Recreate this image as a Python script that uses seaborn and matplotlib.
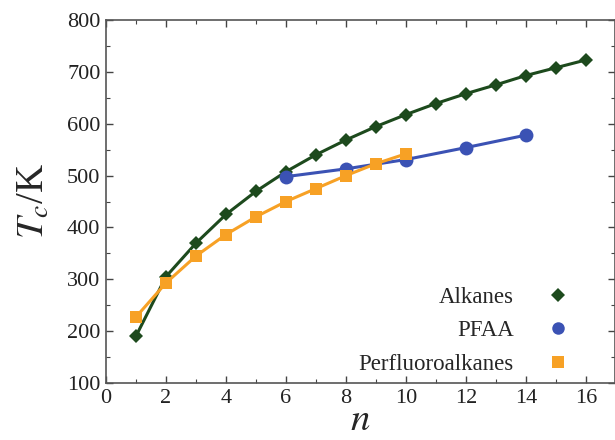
import matplotlib
matplotlib.use("Agg")
import matplotlib.pyplot as plt
from matplotlib.ticker import MultipleLocator
from matplotlib.lines import Line2D
import pandas as pd
import seaborn as sns

# Critical temperatures (K) against chain length n
alkane_n = [1, 2, 3, 4, 5, 6, 7, 8, 9, 10, 11, 12, 13, 14, 15, 16]
alkane_tc = [190.6, 305.3, 369.8, 425.1, 469.7, 507.6, 540.2, 568.7,
             594.6, 617.7, 639.0, 658.0, 675.0, 693.0, 708.0, 723.0]

pfaa_n = [6, 8, 10, 12, 14]
pfaa_tc = [498.0, 513.0, 531.0, 554.0, 578.0]

pfalk_n = [1, 2, 3, 4, 5, 6, 7, 8, 9, 10]
pfalk_tc = [227.5, 293.0, 345.0, 386.4, 420.6, 450.0, 475.0, 500.0, 523.0, 542.0]

series_names = ["Alkanes", "PFAA", "Perfluoroalkanes"]
series_colors = ["#1d4a1d", "#3b52b4", "#f7a125"]
series_markers = ["D", "o", "s"]
series_msize = [7, 10, 9]
legend_msize = [7, 9, 8]

frames = []
for name, xs, ys in zip(series_names, [alkane_n, pfaa_n, pfalk_n],
                        [alkane_tc, pfaa_tc, pfalk_tc]):
    frames.append(pd.DataFrame({"n": xs, "Tc": ys, "series": name}))
df = pd.concat(frames, ignore_index=True)

sns.set_theme(style="ticks")
plt.rcParams["font.family"] = ["Liberation Serif", "DejaVu Serif"]
plt.rcParams["mathtext.fontset"] = "stix"

fig = plt.figure(figsize=(6.15, 4.4), dpi=100)
ax = fig.add_axes([0.1724, 0.1295, 0.8276, 0.825])

for name, col, mk, ms in zip(series_names, series_colors, series_markers,
                             series_msize):
    sub = df[df["series"] == name]
    sns.lineplot(data=sub, x="n", y="Tc", ax=ax, color=col,
                 linewidth=2.2, marker=mk, markersize=ms,
                 markeredgewidth=0, sort=True, legend=False)

ax.set_xlim(0, 16.97)
ax.set_ylim(100, 800)
ax.xaxis.set_major_locator(MultipleLocator(2))
ax.xaxis.set_minor_locator(MultipleLocator(1))
ax.yaxis.set_major_locator(MultipleLocator(100))
ax.yaxis.set_minor_locator(MultipleLocator(50))
ax.tick_params(which="both", direction="in", top=True, right=True,
               color="#444444")
ax.tick_params(which="major", length=5, width=1, labelsize=16, pad=4,
               labelcolor="#222222")
ax.tick_params(which="minor", length=3, width=0.8)
for s in ax.spines.values():
    s.set_color("#555555")
    s.set_linewidth(1.2)

ax.set_xlabel("$n$", fontsize=28, labelpad=-4)
ax.set_ylabel("$T_c$/K", fontsize=28, labelpad=10)

handles = [Line2D([], [], linestyle="none", marker=mk, markersize=ms,
                  markerfacecolor=col, markeredgewidth=0)
           for col, mk, ms in zip(series_colors, series_markers, legend_msize)]
ax.legend(handles, series_names, loc="lower right", frameon=False,
          markerfirst=False, fontsize=16.5, handlelength=1.0,
          handletextpad=1.45, labelspacing=0.55,
          bbox_to_anchor=(0.952, -0.035))

fig.savefig("out.png", dpi=100)
